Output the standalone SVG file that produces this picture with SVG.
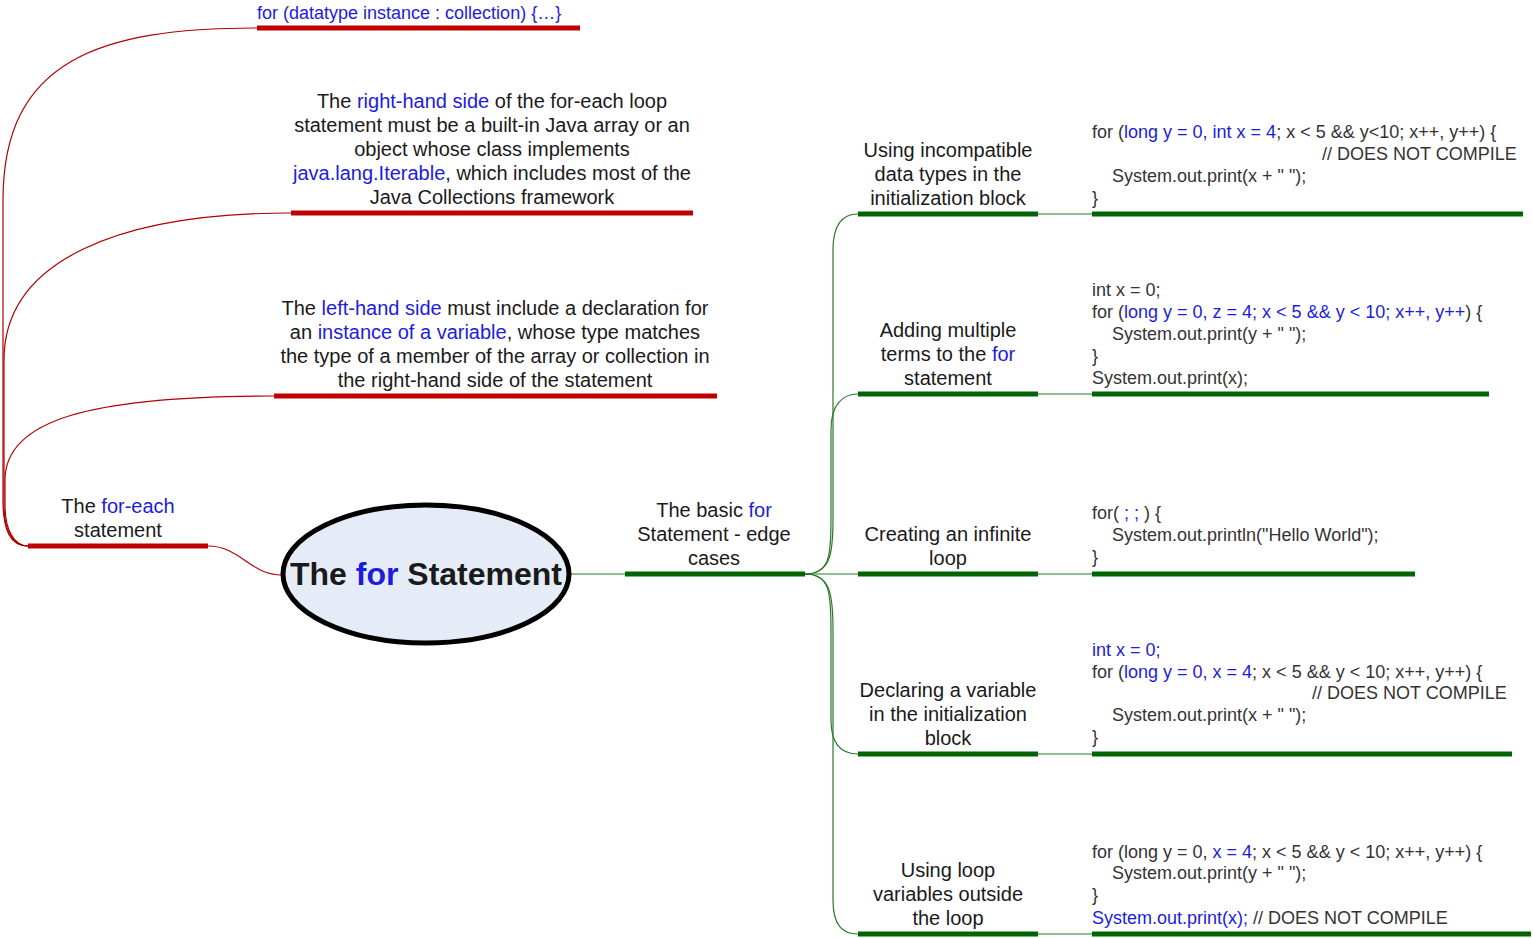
<svg xmlns="http://www.w3.org/2000/svg" width="1533" height="938" viewBox="0 0 1533 938">
<style>
text{font-family:"Liberation Sans",Arial,sans-serif;fill:#1a1a1a}
.lbl{font-size:20px;text-anchor:middle}
.code{font-size:18px;fill:#333}
.b{fill:#1c1ce0}
.rbar{stroke:#c00000;stroke-width:5;fill:none}
.gbar{stroke:#006400;stroke-width:5;fill:none}
.rc{stroke:#b00000;stroke-width:1.2;fill:none}
.gc{stroke:#2a7a2a;stroke-width:1.2;fill:none}
</style>
<rect width="1533" height="938" fill="#ffffff"/>
<g id="connectors">
<path class="rc" d="M282,575 C250,575 240,546 208,546"/>
<path class="rc" d="M28,546 C10,546 3,530 3,500 L3,200 C3,60 100,28 257,28"/>
<path class="rc" d="M28,546 C12,546 4,530 4,505 L4,360 C4,260 120,213 291,213"/>
<path class="rc" d="M28,546 C14,546 5,530 5,505 L5,480 C5,420 90,396 274,396"/>
<path class="gc" d="M570,574 L625,574"/>
<path class="gc" d="M805,574 C830,574 833,555 833,520 L833,250 C833,225 842,214 858,214"/>
<path class="gc" d="M805,574 C830,574 831,555 831,520 L831,430 C831,405 842,394 858,394"/>
<path class="gc" d="M805,574 L858,574"/>
<path class="gc" d="M805,574 C830,574 831,593 831,630 L831,720 C831,745 842,754 858,754"/>
<path class="gc" d="M805,574 C830,574 833,593 833,630 L833,900 C833,925 842,934 858,934"/>
<path class="gc" d="M1038,214 L1092,214"/>
<path class="gc" d="M1038,394 L1092,394"/>
<path class="gc" d="M1038,574 L1092,574"/>
<path class="gc" d="M1038,754 L1092,754"/>
<path class="gc" d="M1038,934 L1092,934"/>
</g>
<g id="root">
<ellipse cx="426" cy="574" rx="143" ry="69" fill="#e6ecf7" stroke="#000" stroke-width="5"/>
<text x="426" y="585" text-anchor="middle" style="font-size:32px;font-weight:bold">The <tspan class="b">for</tspan> Statement</text>
</g>
<g id="foreach">
<line class="rbar" x1="28" y1="546" x2="208" y2="546"/>
<text class="lbl" x="118" y="513">The <tspan class="b">for-each</tspan></text>
<text class="lbl" x="118" y="537">statement</text>
</g>
<g id="syntax">
<line class="rbar" x1="257" y1="28" x2="580" y2="28"/>
<text x="257" y="19" style="font-size:18px;fill:#1c1ce0">for (datatype instance : collection) {…}</text>
</g>
<g id="rhs">
<line class="rbar" x1="291" y1="213" x2="693" y2="213"/>
<text class="lbl" x="492" y="108">The <tspan class="b">right-hand side</tspan> of the for-each loop</text>
<text class="lbl" x="492" y="132">statement must be a built-in Java array or an</text>
<text class="lbl" x="492" y="156">object whose class implements</text>
<text class="lbl" x="492" y="180"><tspan class="b">java.lang.Iterable</tspan>, which includes most of the</text>
<text class="lbl" x="492" y="204">Java Collections framework</text>
</g>
<g id="lhs">
<line class="rbar" x1="274" y1="396" x2="717" y2="396"/>
<text class="lbl" x="495" y="315">The <tspan class="b">left-hand side</tspan> must include a declaration for</text>
<text class="lbl" x="495" y="339">an <tspan class="b">instance of a variable</tspan>, whose type matches</text>
<text class="lbl" x="495" y="363">the type of a member of the array or collection in</text>
<text class="lbl" x="495" y="387">the right-hand side of the statement</text>
</g>
<g id="basic">
<line class="gbar" x1="625" y1="574" x2="805" y2="574"/>
<text class="lbl" x="714" y="517">The basic <tspan class="b">for</tspan></text>
<text class="lbl" x="714" y="541">Statement - edge</text>
<text class="lbl" x="714" y="565">cases</text>
</g>
<g id="case1">
<line class="gbar" x1="858" y1="214" x2="1038" y2="214"/>
<text class="lbl" x="948" y="157">Using incompatible</text>
<text class="lbl" x="948" y="181">data types in the</text>
<text class="lbl" x="948" y="205">initialization block</text>
</g>
<g id="code1">
<line class="gbar" x1="1092" y1="214" x2="1523" y2="214"/>
<text class="code" x="1092" y="138">for (<tspan class="b">long y = 0, int x = 4</tspan>; x &lt; 5 &amp;&amp; y&lt;10; x++, y++) {</text>
<text class="code" x="1322" y="160">// DOES NOT COMPILE</text>
<text class="code" x="1112" y="182">System.out.print(x + " ");</text>
<text class="code" x="1092" y="204">}</text>
</g>
<g id="case2">
<line class="gbar" x1="858" y1="394" x2="1038" y2="394"/>
<text class="lbl" x="948" y="337">Adding multiple</text>
<text class="lbl" x="948" y="361">terms to the <tspan class="b">for</tspan></text>
<text class="lbl" x="948" y="385">statement</text>
</g>
<g id="code2">
<line class="gbar" x1="1092" y1="394" x2="1489" y2="394"/>
<text class="code" x="1092" y="296">int x = 0;</text>
<text class="code" x="1092" y="318">for (<tspan class="b">long y = 0, z = 4; x &lt; 5 &amp;&amp; y &lt; 10; x++, y++</tspan>) {</text>
<text class="code" x="1112" y="340">System.out.print(y + " ");</text>
<text class="code" x="1092" y="362">}</text>
<text class="code" x="1092" y="384">System.out.print(x);</text>
</g>
<g id="case3">
<line class="gbar" x1="858" y1="574" x2="1038" y2="574"/>
<text class="lbl" x="948" y="541">Creating an infinite</text>
<text class="lbl" x="948" y="565">loop</text>
</g>
<g id="code3">
<line class="gbar" x1="1092" y1="574" x2="1415" y2="574"/>
<text class="code" x="1092" y="519">for( <tspan class="b">; ;</tspan> ) {</text>
<text class="code" x="1112" y="541">System.out.println("Hello World");</text>
<text class="code" x="1092" y="563">}</text>
</g>
<g id="case4">
<line class="gbar" x1="858" y1="754" x2="1038" y2="754"/>
<text class="lbl" x="948" y="697">Declaring a variable</text>
<text class="lbl" x="948" y="721">in the initialization</text>
<text class="lbl" x="948" y="745">block</text>
</g>
<g id="code4">
<line class="gbar" x1="1092" y1="754" x2="1512" y2="754"/>
<text class="code b" x="1092" y="656">int x = 0;</text>
<text class="code" x="1092" y="678">for (<tspan class="b">long y = 0, x = 4</tspan>; x &lt; 5 &amp;&amp; y &lt; 10; x++, y++) {</text>
<text class="code" x="1312" y="699">// DOES NOT COMPILE</text>
<text class="code" x="1112" y="721">System.out.print(x + " ");</text>
<text class="code" x="1092" y="743">}</text>
</g>
<g id="case5">
<line class="gbar" x1="858" y1="934" x2="1038" y2="934"/>
<text class="lbl" x="948" y="877">Using loop</text>
<text class="lbl" x="948" y="901">variables outside</text>
<text class="lbl" x="948" y="925">the loop</text>
</g>
<g id="code5">
<line class="gbar" x1="1092" y1="934" x2="1531" y2="934"/>
<text class="code" x="1092" y="858">for (long y = 0, <tspan class="b">x = 4</tspan>; x &lt; 5 &amp;&amp; y &lt; 10; x++, y++) {</text>
<text class="code" x="1112" y="879">System.out.print(y + " ");</text>
<text class="code" x="1092" y="901">}</text>
<text class="code" x="1092" y="924"><tspan class="b">System.out.print(x);</tspan> // DOES NOT COMPILE</text>
</g>
</svg>
